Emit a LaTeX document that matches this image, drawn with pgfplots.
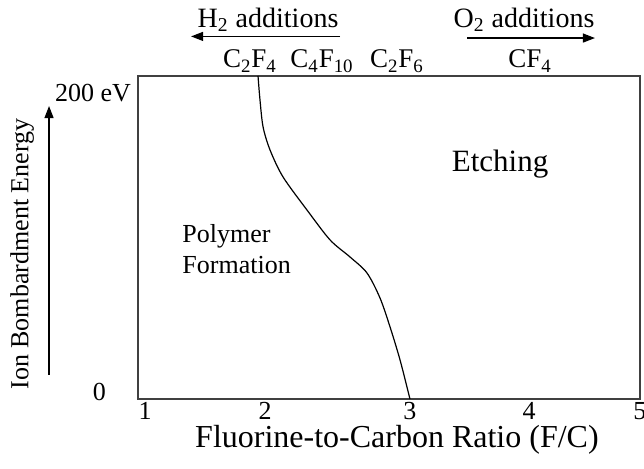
\documentclass[border=0pt]{standalone}
\usepackage{fontspec}
\setmainfont{Liberation Serif}
\usepackage{pgfplots}
\pgfplotsset{compat=1.18}
\usetikzlibrary{calc,arrows.meta}
\begin{document}
\begin{tikzpicture}
\begin{axis}[
  name=ax,
  scale only axis, width=251pt, height=161.5pt,
  xmin=0.943, xmax=5, ymin=0, ymax=200,
  axis line style={line width=0.75pt, black!75},
  xtick={1,1.970,3.141,4.103,5}, xticklabels={1,2,3,4,5},
  ytick={4.3,189.5}, yticklabels={0\kern12.5pt,200 eV},
  major tick length=0pt,
  tick label style={font=\fontsize{13}{15}\selectfont},
  xticklabel style={anchor=base, yshift=-10.5pt, inner sep=0pt},
  /pgf/number format/assume math mode=true,
  clip=false,
  xlabel={Fluorine-to-Carbon Ratio (F/C)},
  xlabel style={font=\fontsize{16}{18}\selectfont, at={(axis cs:3.036,-30.3)}, anchor=base, inner sep=0pt},
  ylabel={Ion Bombardment Energy},
  ylabel style={font=\fontsize{13}{15}\selectfont, at={(axis cs:0.006,89.8)}, anchor=center, inner sep=0pt},
]
\addplot[smooth, black, line width=0.6pt] coordinates {
 (1.913,200) (1.929,185.1) (1.954,168.4) (2.010,154.2) (2.115,137.5)
 (2.309,117.0) (2.495,98.5) (2.657,87.9) (2.794,78.0) (2.899,62.5)
 (2.980,44.6) (3.061,24.1) (3.141,0)
};
\node[font=\fontsize{14}{16}\selectfont, anchor=base] at (axis cs:1.994,230.3) {H\textsubscript{2} additions};
\node[font=\fontsize{14}{16}\selectfont, anchor=base] at (axis cs:4.063,230.3) {O\textsubscript{2} additions};
\draw[line width=0.6pt, -{Triangle[length=6pt,width=4.5pt]}] (axis cs:2.576,224.5) -- (axis cs:1.372,224.5);
\draw[line width=0.6pt, -{Triangle[length=6pt,width=4.5pt]}] (axis cs:3.602,223.5) -- (axis cs:4.636,223.5);
\node[font=\fontsize{13.5}{16}\selectfont, anchor=base] at (axis cs:1.848,205) {C\textsubscript{2}F\textsubscript{4}};
\node[font=\fontsize{13.5}{16}\selectfont, anchor=base] at (axis cs:2.430,205) {C\textsubscript{4}F\textsubscript{10}};
\node[font=\fontsize{13.5}{16}\selectfont, anchor=base] at (axis cs:3.036,205) {C\textsubscript{2}F\textsubscript{6}};
\node[font=\fontsize{13.5}{16}\selectfont, anchor=base] at (axis cs:4.111,205) {CF\textsubscript{4}};
\node[font=\fontsize{13}{15.5}\selectfont, anchor=base west, inner sep=0pt] at (axis cs:1.299,97.2) {Polymer};
\node[font=\fontsize{13}{15.5}\selectfont, anchor=base west, inner sep=0pt] at (axis cs:1.299,78.0) {Formation};
\node[font=\fontsize{15.5}{18}\selectfont, anchor=base] at (axis cs:3.869,140.6) {Etching};
\draw[line width=0.6pt, -{Triangle[length=6pt,width=4.5pt]}] (axis cs:0.224,14.9) -- (axis cs:0.224,181.4);
\end{axis}
\pgfresetboundingbox
\useasboundingbox ($(ax.south west)+(-69pt,-35pt)$) rectangle ($(ax.north east)+(2pt,38pt)$);
\end{tikzpicture}
\end{document}
